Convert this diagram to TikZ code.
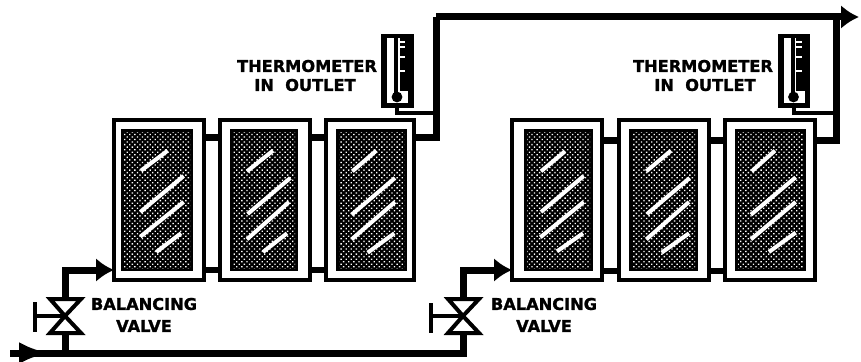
\documentclass[tikz,border=0pt]{standalone}
\usepackage{fontspec}
\setmainfont{DejaVu Sans}[BoldFeatures={FakeBold=1.4}]
\usetikzlibrary{patterns.meta,arrows.meta}
\tikzset{
  x=1pt,y=-1pt,
  pipe/.style={line width=7pt,line join=miter},
  lead/.style={line width=3.2pt},
  arrowpipe/.style={pipe,-{Latex[length=18pt,width=24pt]}},
  panel/.style={draw,line width=3.2pt,fill=white,minimum width=#1,minimum height=160pt,inner sep=0pt,outer sep=0pt},
  glass/.style={fill=black,draw=none},
  dots/.style={pattern={Dots[radius=0.95pt,distance=3.6pt,angle=45]},pattern color=white},
  glare/.style={draw=white,line width=4pt},
  lbl/.style={font=\fontsize{16.2}{16.2}\bfseries,inner sep=0pt,outer sep=0pt,text=black},
  valvebody/.style={draw,line width=4pt,fill=white,line join=miter},
  valvestem/.style={line width=3.6pt},
  thermo/.style={draw,line width=3.2pt,fill=black,minimum width=29pt,minimum height=70pt,inner sep=0pt,outer sep=0pt},
}
\newcommand{\glassbox}[4]{%
  \path[glass] (#1,#3) rectangle (#2,#4);
  \path[dots] (#1+3,#3+3) rectangle (#2-3,#4-3);}
\newcommand{\thermodetail}[1]{%
  \begin{scope}[shift={(#1.north west)}]
    \fill[white] (4,2) rectangle (11,60);
    \fill[white] (15,2) rectangle (16.5,60);
    \fill[white] (4,55) rectangle (25,67);
    \foreach \yy in {6,11,21,35} {\draw[white,line width=1.4pt] (16,\yy) -- (22,\yy);}
    \fill[black] (11,2) rectangle (15,60);
    \fill[black] (14,61) circle (5.4pt);
  \end{scope}}
\newcommand{\valve}[2]{%
  \path[valvebody] (#1-15,#2-17) -- (#1+16,#2-17) -- (#1,#2) -- cycle;
  \path[valvebody] (#1-15,#2+17) -- (#1+16,#2+17) -- (#1,#2) -- cycle;}
\begin{document}
\begin{tikzpicture}
\useasboundingbox (0,0) rectangle (861,361);
% panels left
\node[panel=90pt] (a1) at (159,200) {};
\node[panel=90pt] (a2) at (265,200) {};
\node[panel=88pt] (a3) at (370,200) {};
% panels right
\node[panel=90pt] (b1) at (557,200) {};
\node[panel=90pt] (b2) at (664,200) {};
\node[panel=90pt] (b3) at (770,200) {};
% headers
\foreach \u/\v in {a1/a2,a2/a3}{
  \draw[line width=7pt] (\u.east |- 0,137) -- (\v.west |- 0,137);
  \draw[line width=6pt] (\u.east |- 0,270) -- (\v.west |- 0,270);
}
\foreach \u/\v in {b1/b2,b2/b3}{
  \draw[line width=7pt] (\u.east |- 0,140) -- (\v.west |- 0,140);
  \draw[line width=6pt] (\u.east |- 0,271) -- (\v.west |- 0,271);
}
\glassbox{121}{193}{129}{271}
\glassbox{230}{298}{129}{271}
\glassbox{336}{407}{129}{271}
\glassbox{524}{593}{129}{271}
\glassbox{629}{698}{129}{271}
\glassbox{735}{806}{129}{271}
% glare left group
\begin{scope}[shift={(105,110)},x=.3333pt,y=-.3333pt]
\foreach \a/\b/\c/\d in {
 108/182/188/122, 106/306/236/198, 106/380/236/276, 154/426/228/370,
 426/184/504/122, 428/312/556/204, 426/388/552/276, 474/426/546/370,
 742/184/814/122, 740/314/870/204, 740/388/870/276, 788/428/868/370}
 \draw[glare] (\a,\b) -- (\c,\d);
\end{scope}
\begin{scope}[shift={(505,110)},x=.3333pt,y=-.3333pt]
\foreach \a/\b/\c/\d in {
 108/184/180/124, 108/306/236/198, 106/382/236/276, 156/424/234/370,
 424/184/498/122, 426/312/554/204, 424/388/552/276, 470/428/552/370,
 740/184/810/122, 738/314/872/202, 738/388/872/276, 792/426/872/368}
 \draw[glare] (\a,\b) -- (\c,\d);
\end{scope}
% coordinates
\coordinate (inL) at (10,353);
\coordinate (teeL) at (65,353);
\coordinate (teeR) at (463,353);
\node[inner sep=0pt] (v1) at (65,316) {};
\node[inner sep=0pt] (v2) at (463,316) {};
\coordinate (h1) at (35,316);
\coordinate (h2) at (431,316);
\coordinate (outE) at (859,17);
\coordinate (bendA) at (436,17);
\coordinate (bendB) at (836,17);
% pipes
\draw[pipe] (inL) -- (teeR) -- (v2);
\draw[line width=7pt,-{Latex[length=30pt,width=22pt]}] (inL) -- (49,353);
\draw[pipe] (teeL) -- (v1);
\draw[arrowpipe] (v1) |- (a1.west |- 0,270);
\draw[arrowpipe] (v2) |- (b1.west |- 0,270);
\draw[pipe] (a3.east |- 0,137) -| (bendA) ;
\draw[arrowpipe] (bendA) -- (outE);
\draw[pipe] (b3.east |- 0,140) -| (bendB);
% valves
\valve{65}{316}
\valve{463}{316}
\draw[valvestem] (v1) -- (h1);
\draw[valvestem] (h1 |- 0,302) -- (h1 |- 0,332);
\draw[valvestem] (v2) -- (h2);
\draw[valvestem] (h2 |- 0,303) -- (h2 |- 0,333);
% thermometers
\draw[lead] (397,106) |- (436,113);
\draw[lead] (794,106) |- (836,113);
\node[thermo] (t1) at (397.5,71) {};
\node[thermo] (t2) at (794,71) {};
\thermodetail{t1}
\thermodetail{t2}
% labels
\node[lbl] (l1) at (307,66) {THERMOMETER};
\node[lbl] (l2) at (305,85) {IN\ \ OUTLET};
\node[lbl] (l3) at (703,66) {THERMOMETER};
\node[lbl] (l4) at (705,85) {IN\ \ OUTLET};
\node[lbl] (l5) at (144,304) {BALANCING};
\node[lbl] (l6) at (144,326) {VALVE};
\node[lbl] (l7) at (544,304) {BALANCING};
\node[lbl] (l8) at (544,326) {VALVE};
\end{tikzpicture}
\end{document}
